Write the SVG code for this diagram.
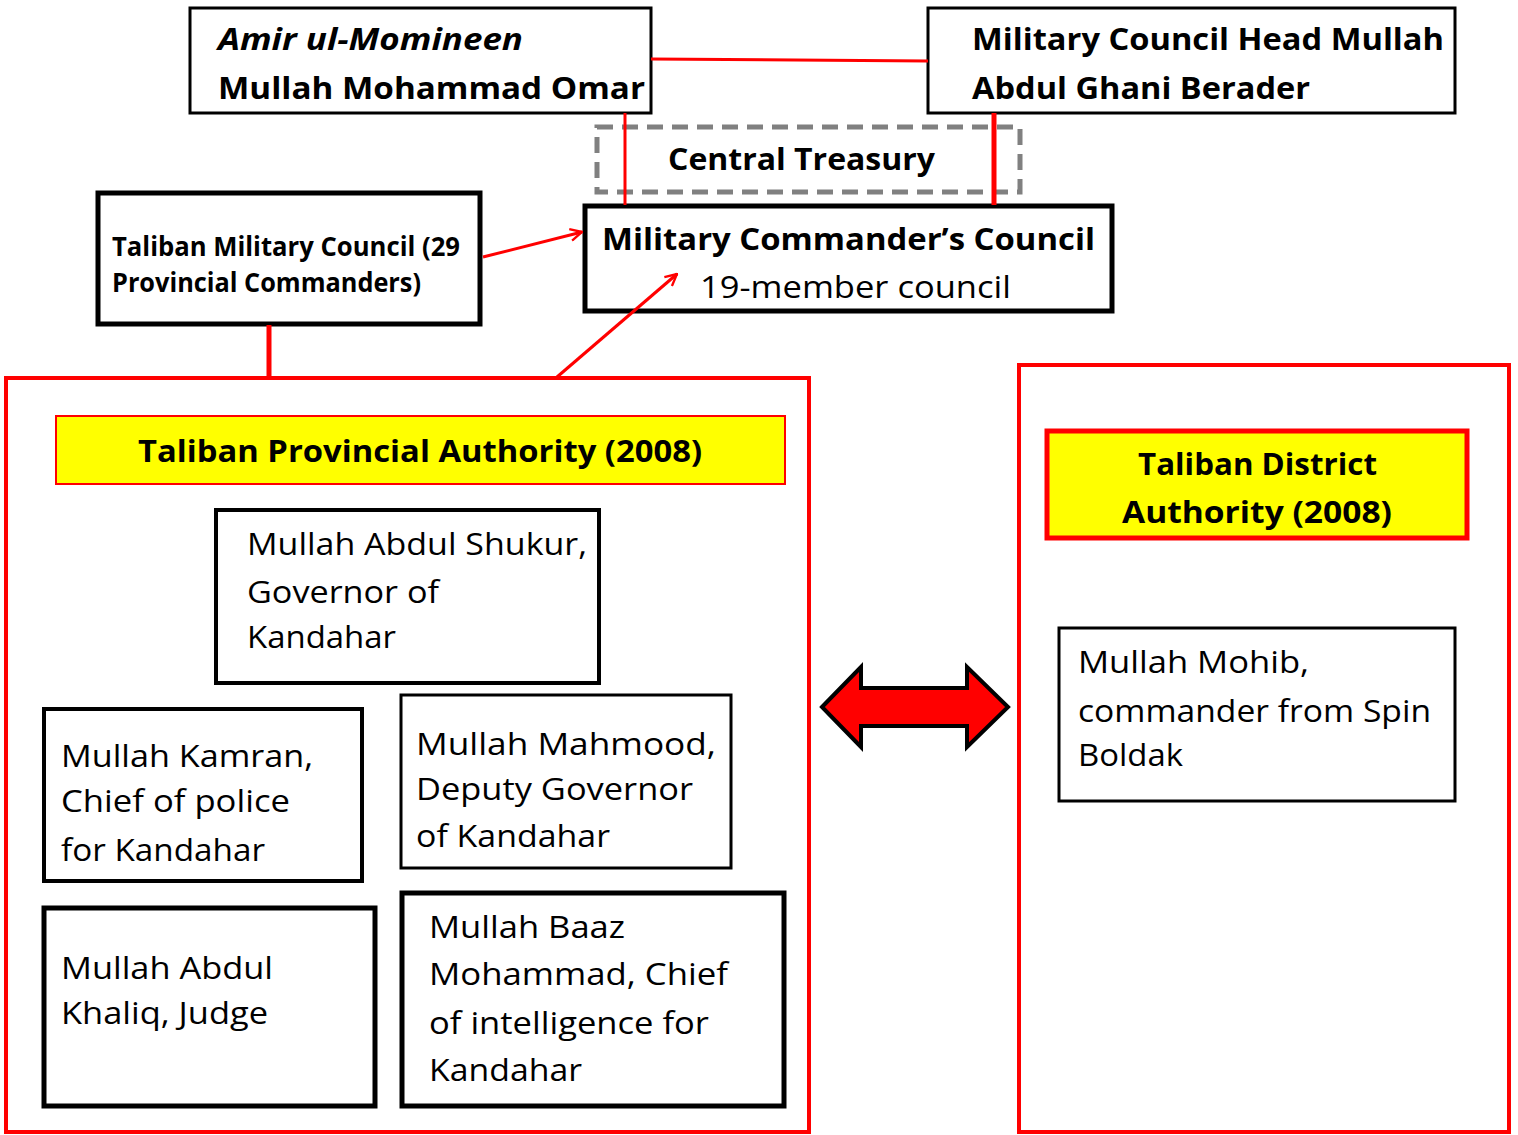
<svg xmlns="http://www.w3.org/2000/svg" width="1518" height="1135" viewBox="0 0 1518 1135">
<style>
text{font-family:"Open Sans","Noto Sans","Liberation Sans",sans-serif;fill:#000}
.b{font-weight:bold}
.r{font-size:31px}
.t{font-size:31px;font-weight:bold}
.box{fill:#fff;stroke:#000}
.red{stroke:#ff0000;fill:none}
</style>
<defs>
<marker id="ah" viewBox="0 0 12 12" refX="11" refY="6" markerWidth="14" markerHeight="14" markerUnits="userSpaceOnUse" orient="auto">
<path d="M1,1 L11,6 L1,11" fill="none" stroke="#ff0000" stroke-width="2"/>
</marker>
</defs>
<rect width="1518" height="1135" fill="#fff"/>

<g id="provincial-frame"><rect x="6" y="378" width="803" height="754" class="red" stroke-width="4"/></g>
<g id="district-frame"><rect x="1019" y="365" width="490" height="767" class="red" stroke-width="4"/></g>

<g id="amir">
<rect x="190" y="8" width="461" height="105" class="box" stroke-width="3"/>
<text x="218" y="50" class="t" font-style="italic" textLength="305" lengthAdjust="spacingAndGlyphs">Amir ul-Momineen</text>
<text x="218" y="99" class="t" textLength="427" lengthAdjust="spacingAndGlyphs">Mullah Mohammad Omar</text>
</g>

<g id="military-council-head">
<rect x="928" y="8" width="527" height="105" class="box" stroke-width="3"/>
<text x="972" y="50" class="t" textLength="472" lengthAdjust="spacingAndGlyphs">Military Council Head Mullah</text>
<text x="972" y="99" class="t" textLength="338" lengthAdjust="spacingAndGlyphs">Abdul Ghani Berader</text>
</g>

<g id="central-treasury">
<rect x="597" y="127" width="423" height="65" fill="none" stroke="#808080" stroke-width="5" stroke-dasharray="16,9"/>
<text x="668" y="170" class="t" textLength="267" lengthAdjust="spacingAndGlyphs">Central Treasury</text>
</g>

<g id="commanders-council">
<rect x="585" y="206" width="527" height="105" class="box" stroke-width="5"/>
<text x="602" y="250" class="t" textLength="493" lengthAdjust="spacingAndGlyphs">Military Commander’s Council</text>
<text x="700" y="298" class="r" textLength="311" lengthAdjust="spacingAndGlyphs">19-member council</text>
</g>

<g id="taliban-military-council">
<rect x="98" y="193" width="382" height="131" class="box" stroke-width="5"/>
<text x="112" y="256" class="b" font-size="26" textLength="348" lengthAdjust="spacingAndGlyphs">Taliban Military Council (29</text>
<text x="112" y="292" class="b" font-size="26" textLength="309" lengthAdjust="spacingAndGlyphs">Provincial Commanders)</text>
</g>

<g id="provincial-title">
<rect x="56" y="416" width="729" height="68" fill="#ffff00" stroke="#ff0000" stroke-width="2"/>
<text x="138" y="462" class="t" textLength="564" lengthAdjust="spacingAndGlyphs">Taliban Provincial Authority (2008)</text>
</g>

<g id="shukur">
<rect x="216" y="510" width="383" height="173" class="box" stroke-width="4"/>
<text x="247" y="555" class="r" textLength="340" lengthAdjust="spacingAndGlyphs">Mullah Abdul Shukur,</text>
<text x="247" y="603" class="r" textLength="192" lengthAdjust="spacingAndGlyphs">Governor of</text>
<text x="247" y="648" class="r" textLength="149" lengthAdjust="spacingAndGlyphs">Kandahar</text>
</g>

<g id="kamran">
<rect x="44" y="709" width="318" height="172" class="box" stroke-width="4"/>
<text x="61" y="767" class="r" textLength="252" lengthAdjust="spacingAndGlyphs">Mullah Kamran,</text>
<text x="61" y="812" class="r" textLength="229" lengthAdjust="spacingAndGlyphs">Chief of police</text>
<text x="61" y="861" class="r" textLength="204" lengthAdjust="spacingAndGlyphs">for Kandahar</text>
</g>

<g id="mahmood">
<rect x="401" y="695" width="330" height="173" class="box" stroke-width="3"/>
<text x="416" y="755" class="r" textLength="300" lengthAdjust="spacingAndGlyphs">Mullah Mahmood,</text>
<text x="416" y="800" class="r" textLength="277" lengthAdjust="spacingAndGlyphs">Deputy Governor</text>
<text x="416" y="847" class="r" textLength="194" lengthAdjust="spacingAndGlyphs">of Kandahar</text>
</g>

<g id="khaliq">
<rect x="44" y="908" width="331" height="198" class="box" stroke-width="5"/>
<text x="61" y="979" class="r" textLength="212" lengthAdjust="spacingAndGlyphs">Mullah Abdul</text>
<text x="61" y="1024" class="r" textLength="207" lengthAdjust="spacingAndGlyphs">Khaliq, Judge</text>
</g>

<g id="baaz">
<rect x="402" y="893" width="382" height="213" class="box" stroke-width="5"/>
<text x="429" y="938" class="r" textLength="196" lengthAdjust="spacingAndGlyphs">Mullah Baaz</text>
<text x="429" y="985" class="r" textLength="299" lengthAdjust="spacingAndGlyphs">Mohammad, Chief</text>
<text x="429" y="1034" class="r" textLength="280" lengthAdjust="spacingAndGlyphs">of intelligence for</text>
<text x="429" y="1081" class="r" textLength="153" lengthAdjust="spacingAndGlyphs">Kandahar</text>
</g>

<g id="district-title">
<rect x="1047" y="431" width="420" height="107" fill="#ffff00" stroke="#ff0000" stroke-width="5"/>
<text x="1138" y="475" class="t" textLength="239" lengthAdjust="spacingAndGlyphs">Taliban District</text>
<text x="1122" y="523" class="t" textLength="270" lengthAdjust="spacingAndGlyphs">Authority (2008)</text>
</g>

<g id="mohib">
<rect x="1059" y="628" width="396" height="173" class="box" stroke-width="3"/>
<text x="1078" y="673" class="r" textLength="231" lengthAdjust="spacingAndGlyphs">Mullah Mohib,</text>
<text x="1078" y="722" class="r" textLength="353" lengthAdjust="spacingAndGlyphs">commander from Spin</text>
<text x="1078" y="766" class="r" textLength="105" lengthAdjust="spacingAndGlyphs">Boldak</text>
</g>

<g id="connectors">
<line x1="651" y1="59" x2="928" y2="61" stroke="#ff0000" stroke-width="3"/>
<line x1="625" y1="113" x2="625" y2="205" stroke="#ff0000" stroke-width="3"/>
<line x1="994" y1="113" x2="994" y2="205" stroke="#ff0000" stroke-width="5"/>
<line x1="269" y1="325" x2="269" y2="377" stroke="#ff0000" stroke-width="5"/>
<line x1="483" y1="257" x2="582" y2="232" stroke="#ff0000" stroke-width="3" marker-end="url(#ah)"/>
<line x1="557" y1="377" x2="677" y2="274" stroke="#ff0000" stroke-width="3" marker-end="url(#ah)"/>
<path d="M822,707 L861,667 L861,688 L967,688 L967,667 L1008,707 L967,747 L967,726 L861,726 L861,747 Z" fill="#ff0000" stroke="#000" stroke-width="4" stroke-linejoin="miter"/>
</g>
</svg>
